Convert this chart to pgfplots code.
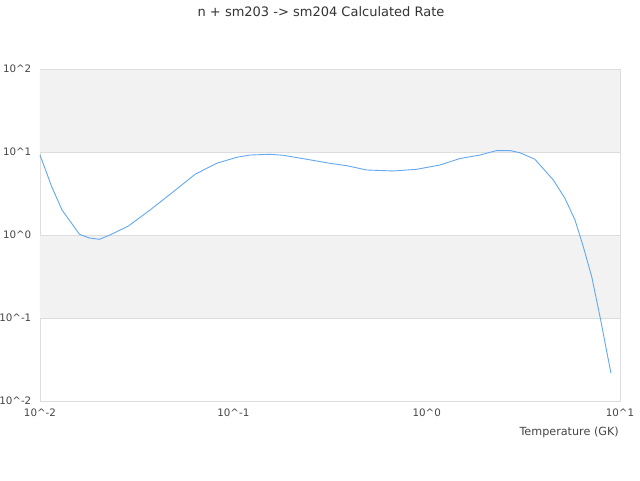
\documentclass[border=0pt]{standalone}
\usepackage{fontspec}
\setmainfont{DejaVu Sans}
\usepackage{pgfplots}
\pgfplotsset{compat=1.18}
\definecolor{bandgray}{HTML}{F2F2F2}
\definecolor{gridgray}{HTML}{DDDDDD}
\definecolor{linecol}{HTML}{62A8F2}
\definecolor{txt}{HTML}{444444}
\begin{document}
\begin{tikzpicture}
\begin{axis}[
  at={(0pt,0pt)}, anchor=south west,
  scale only axis, width=580pt, height=332pt,
  xmode=log, ymode=log,
  xmin=0.01, xmax=10, ymin=0.01, ymax=100,
  axis line style={gridgray, line width=0.8pt},
  ytick={0.01,0.1,1,10,100},
  yticklabels={10\textasciicircum-2,10\textasciicircum-1,10\textasciicircum0,10\textasciicircum1,10\textasciicircum2},
  xtick={0.01,0.1,1,10},
  xticklabels={10\textasciicircum-2,10\textasciicircum-1,10\textasciicircum0,10\textasciicircum1},
  major tick length=0pt, minor tick length=0pt,
  tick label style={font=\fontsize{10.3}{12}\selectfont, text=txt},
  yticklabel style={anchor=east, inner sep=0pt, xshift=-8.5pt},
  xticklabel style={anchor=north, inner sep=0pt, yshift=-8pt},
  xlabel={Temperature (GK)},
  xlabel style={font=\fontsize{11.2}{13}\selectfont, text=txt, at={(axis description cs:1,0)}, anchor=base east, inner sep=0pt, yshift=-34pt, xshift=-1pt},
  title={n + sm203 -> sm204 Calculated Rate},
  title style={font=\fontsize{13}{15}\selectfont, text=black!80, at={(axis description cs:0.4845,1)}, anchor=base, inner sep=0pt, yshift=47pt},
  clip=false,
]
\addplot[draw=none, fill=bandgray] coordinates {(0.01,10) (10,10) (10,100) (0.01,100) (0.01,10)};
\addplot[draw=none, fill=bandgray] coordinates {(0.01,0.1) (10,0.1) (10,1) (0.01,1) (0.01,0.1)};
\addplot[gridgray, line width=0.8pt] coordinates {(0.01,0.1) (10,0.1)};
\addplot[gridgray, line width=0.8pt] coordinates {(0.01,1) (10,1)};
\addplot[gridgray, line width=0.8pt] coordinates {(0.01,10) (10,10)};
\addplot[gridgray, line width=0.8pt] coordinates {(0.01,100) (10,100)};
\addplot[linecol, line width=0.9pt] coordinates {
(0.01,9.2)
(0.0115,3.82)
(0.0130,2.0)
(0.0160,1.02)
(0.0180,0.92)
(0.0203,0.887)
(0.0230,1.0)
(0.0286,1.28)
(0.0371,2.0)
(0.0489,3.32)
(0.0634,5.39)
(0.082,7.31)
(0.104,8.63)
(0.122,9.2)
(0.155,9.38)
(0.181,9.13)
(0.240,8.17)
(0.316,7.31)
(0.386,6.84)
(0.49,6.07)
(0.672,5.91)
(0.888,6.19)
(1.172,6.97)
(1.486,8.35)
(1.887,9.2)
(2.30,10.4)
(2.70,10.4)
(3.04,9.8)
(3.63,8.17)
(4.52,4.6)
(5.19,2.77)
(5.85,1.52)
(6.46,0.723)
(7.14,0.315)
(7.88,0.104)
(8.98,0.0216)
};
\end{axis}
\pgfresetboundingbox
\path[use as bounding box] (-40pt,-79pt) rectangle (600pt,401pt);
\end{tikzpicture}
\end{document}
